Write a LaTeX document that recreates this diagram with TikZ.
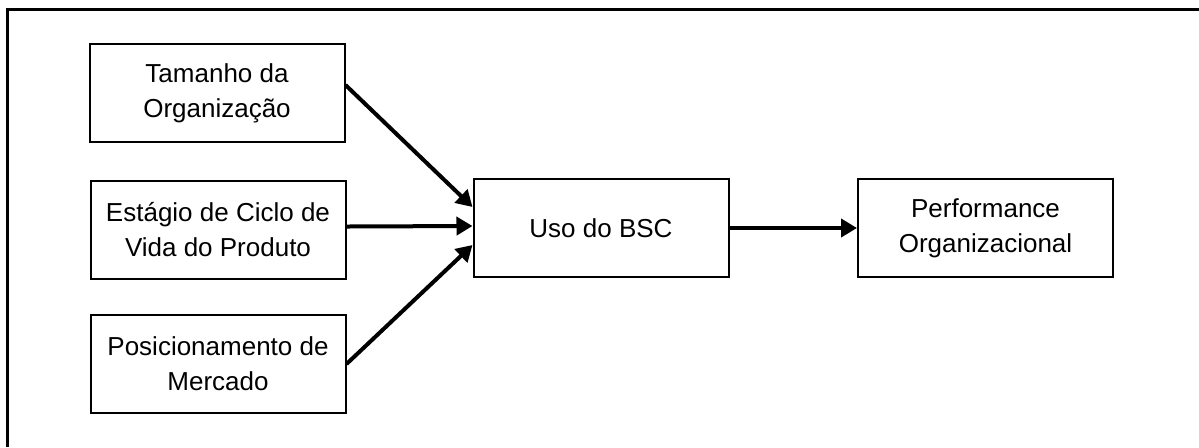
\documentclass[tikz,border=0pt]{standalone}
\usepackage{fontspec}
\setmainfont{Liberation Sans}
\usetikzlibrary{arrows.meta}
\begin{document}
\begin{tikzpicture}[x=0.5pt,y=-0.5pt,
  box/.style={draw,line width=1pt,align=center,inner sep=0pt,
    minimum width=127.5pt,minimum height=49pt,
    font=\fontsize{13}{17.5}\selectfont},
  link/.style={line width=2pt,-{Triangle[length=8pt,width=9pt]}}]
\useasboundingbox (0,0) rectangle (1199,447);
% frame
\draw[line width=1.5pt] (7,447) -- (7,9) -- (1199,9);
% factors
\node[box] (tam) at (217,93) {Tamanho da\\Organização};
\node[box] (ciclo) at (218,229.5) {Estágio de Ciclo de\\Vida do Produto};
\node[box] (pos) at (218,364) {Posicionamento de\\Mercado};
% central construct and outcome
\node[box] (uso) at (601,228) {Uso do BSC};
\node[box] (perf) at (985.5,228) {Performance\\Organizacional};
% links
\draw[link] ([yshift=4pt]tam.east) -- ([yshift=10.5pt]uso.west);
\draw[link] ([yshift=1.5pt]ciclo.east) -- ([yshift=1pt]uso.west);
\draw[link] (pos.east) -- ([yshift=-8.5pt]uso.west);
\draw[link] (uso.east) -- (perf.west);
\end{tikzpicture}
\end{document}
